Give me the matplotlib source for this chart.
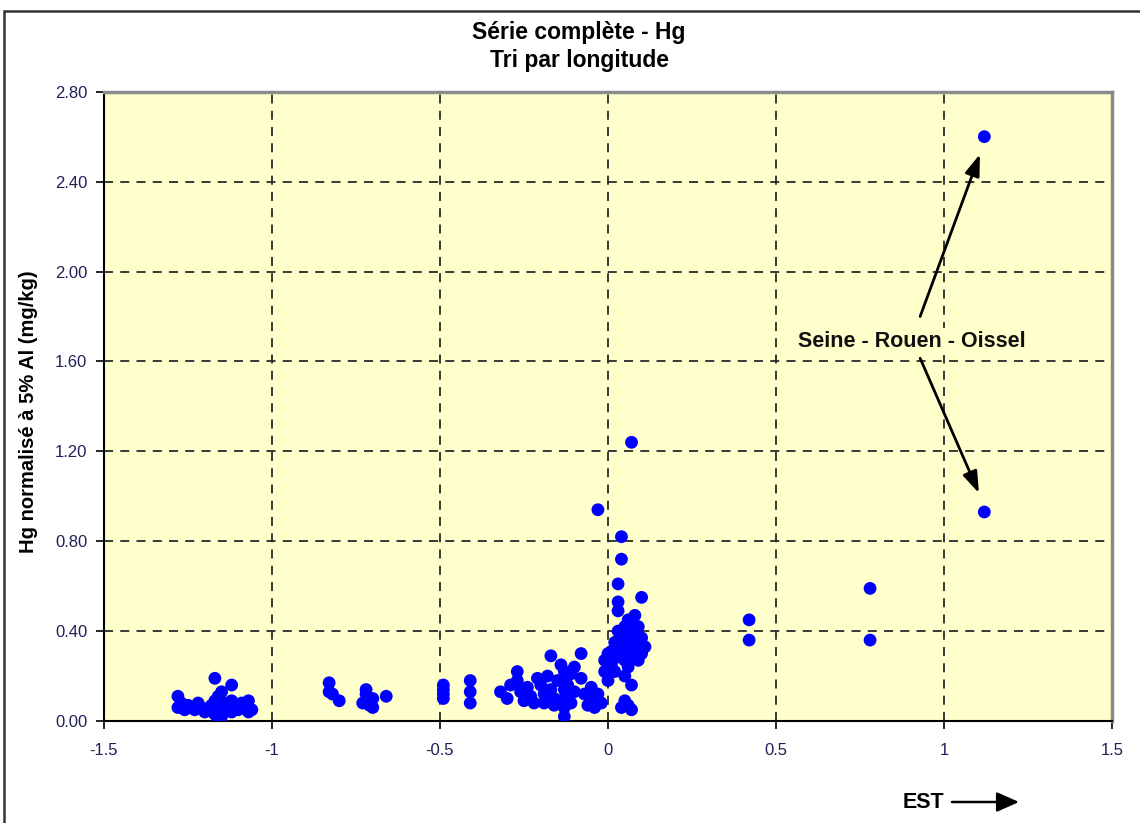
import matplotlib
matplotlib.use("Agg")
import matplotlib.pyplot as plt
from matplotlib.patches import Rectangle, FancyArrowPatch

plt.rcParams['font.family'] = ['Liberation Sans', 'DejaVu Sans']

# ---- data (longitude, Hg normalised) ----
x_west = [-1.28, -1.28, -1.27, -1.26, -1.25, -1.24, -1.23, -1.22, -1.21, -1.20,
          -1.19, -1.18, -1.17, -1.17, -1.16, -1.16, -1.15, -1.15, -1.14, -1.13,
          -1.12, -1.12, -1.11, -1.10, -1.09, -1.08, -1.07, -1.07, -1.06, -1.17,
          -1.16, -1.12]
y_west = [0.11, 0.06, 0.08, 0.05, 0.07, 0.06, 0.05, 0.08, 0.06, 0.04,
          0.05, 0.07, 0.09, 0.03, 0.11, 0.05, 0.13, 0.02, 0.08, 0.06,
          0.09, 0.04, 0.07, 0.05, 0.08, 0.06, 0.09, 0.04, 0.05, 0.19,
          0.01, 0.16]

x_mid = [-0.83, -0.83, -0.82, -0.80,
         -0.73, -0.72, -0.72, -0.71, -0.70, -0.70, -0.66,
         -0.49, -0.49, -0.49, -0.49,
         -0.41, -0.41, -0.41]
y_mid = [0.17, 0.13, 0.12, 0.09,
         0.08, 0.14, 0.12, 0.07, 0.10, 0.06, 0.11,
         0.16, 0.14, 0.12, 0.10,
         0.18, 0.13, 0.08]

x_center = [-0.32, -0.30, -0.29, -0.27, -0.27, -0.26, -0.25, -0.24, -0.23, -0.22,
            -0.21, -0.20, -0.19, -0.19, -0.18, -0.17, -0.17, -0.16, -0.16, -0.15,
            -0.14, -0.13, -0.13, -0.13, -0.13, -0.13, -0.13, -0.12, -0.12, -0.11,
            -0.11, -0.10, -0.10, -0.08, -0.08, -0.07, -0.06, -0.05, -0.05, -0.04,
            -0.03, -0.02, -0.03, -0.01, -0.01, 0.00, 0.00]
y_center = [0.13, 0.10, 0.16, 0.22, 0.18, 0.13, 0.09, 0.15, 0.11, 0.08,
            0.19, 0.16, 0.12, 0.08, 0.20, 0.14, 0.29, 0.10, 0.07, 0.18,
            0.25, 0.22, 0.18, 0.14, 0.10, 0.06, 0.02, 0.16, 0.12, 0.21,
            0.08, 0.24, 0.13, 0.30, 0.19, 0.12, 0.07, 0.15, 0.10, 0.06,
            0.12, 0.08, 0.94, 0.22, 0.27, 0.30, 0.18]

x_east = [0.01, 0.01, 0.02, 0.02, 0.02, 0.03, 0.03, 0.03, 0.03, 0.03,
          0.04, 0.04, 0.04, 0.04, 0.04, 0.05, 0.05, 0.05, 0.05, 0.05,
          0.06, 0.06, 0.06, 0.06, 0.07, 0.07, 0.07, 0.07, 0.07, 0.07,
          0.08, 0.08, 0.08, 0.09, 0.09, 0.10, 0.10, 0.10, 0.11, 0.09,
          0.42, 0.42, 0.78, 0.78, 1.12, 1.12]
y_east = [0.25, 0.31, 0.35, 0.28, 0.22, 0.61, 0.53, 0.49, 0.40, 0.33,
          0.82, 0.72, 0.38, 0.30, 0.06, 0.42, 0.36, 0.27, 0.20, 0.09,
          0.45, 0.34, 0.24, 0.07, 1.24, 0.40, 0.32, 0.28, 0.16, 0.05,
          0.47, 0.38, 0.30, 0.35, 0.27, 0.55, 0.37, 0.30, 0.33, 0.42,
          0.45, 0.36, 0.59, 0.36, 2.60, 0.93]

x_ticks = [-1.5, -1, -0.5, 0, 0.5, 1, 1.5]
x_ticklabels = ['-1.5', '-1', '-0.5', '0', '0.5', '1', '1.5']
y_ticks = [0.0, 0.4, 0.8, 1.2, 1.6, 2.0, 2.4, 2.8]

title1 = "Série complète - Hg"
title2 = "Tri par longitude"
ylabel = "Hg normalisé à 5% Al (mg/kg)"
annot = "Seine - Rouen - Oissel"

fig = plt.figure(figsize=(11.4, 8.23), dpi=100)
fig.patch.set_facecolor('white')
ax = fig.add_axes([104/1140, 1 - 721/823, (1112-104)/1140, (721-91.7)/823])
ax.set_facecolor('#FFFFCC')

xs = x_west + x_mid + x_center + x_east
ys = y_west + y_mid + y_center + y_east
ax.scatter(xs, ys, s=85, color='#0000FF', edgecolors='none', zorder=3)

ax.set_xlim(-1.5, 1.5)
ax.set_ylim(0, 2.8)
ax.set_xticks(x_ticks)
ax.set_xticklabels(x_ticklabels)
ax.set_yticks(y_ticks)
ax.set_yticklabels([f"{v:.2f}" for v in y_ticks])
ax.tick_params(axis='both', direction='out', length=6, width=1.2,
               labelsize=12, labelcolor='#20205a', color='black')
ax.tick_params(axis='x', pad=10)
ax.tick_params(axis='y', pad=6)

ax.grid(True, color='#2a2a2a', linestyle=(0, (5, 4)), linewidth=1.3, zorder=1)
ax.set_axisbelow(True)

for s in ['left', 'bottom']:
    ax.spines[s].set_color('black')
    ax.spines[s].set_linewidth(1.5)
for s in ['top', 'right']:
    ax.spines[s].set_color('#8a8a8a')
    ax.spines[s].set_linewidth(2.5)

fig.text(579/1140, 1 - 33/823, title1, ha='center', va='center',
         fontsize=16.5, fontweight='bold')
fig.text(579/1140, 1 - 61/823, title2, ha='center', va='center',
         fontsize=16.5, fontweight='bold')
fig.text(29/1140, 1 - 412/823, ylabel, rotation=90, ha='center', va='center',
         fontsize=14.5, fontweight='bold')

# annotation
ax.text(0.903, 1.688, annot, ha='center', va='center', fontsize=15.5,
        fontweight='bold', color='#111111', zorder=5,
        bbox=dict(boxstyle='square,pad=0.15', facecolor='#FFFFCC', edgecolor='none'))
arrow_kw = dict(arrowstyle='-|>,head_length=1.3,head_width=0.45', color='black',
                lw=2.0, shrinkA=0, shrinkB=0)
ax.annotate('', xy=(1.107, 2.522), xytext=(0.929, 1.80), arrowprops=arrow_kw, zorder=5)
ax.annotate('', xy=(1.104, 1.014), xytext=(0.929, 1.614), arrowprops=arrow_kw, zorder=5)

# EST arrow
fig.text(923/1140, 1 - 802/823, "EST", ha='center', va='center',
         fontsize=15.5, fontweight='bold')
fig.patches.append(FancyArrowPatch(
    (952/1140, 1 - 802/823), (1019/1140, 1 - 802/823), transform=fig.transFigure,
    arrowstyle='-|>,head_length=0.9,head_width=0.4', mutation_scale=15,
    color='black', lw=1.8, shrinkA=0, shrinkB=0))

# outer frame
fig.patches.append(Rectangle((4/1140, -0.05), 1.2, 1 - 11/823 + 0.05,
                             transform=fig.transFigure, fill=False,
                             edgecolor='#333333', linewidth=1.8))

fig.savefig('out.png', dpi=100, facecolor='white')
